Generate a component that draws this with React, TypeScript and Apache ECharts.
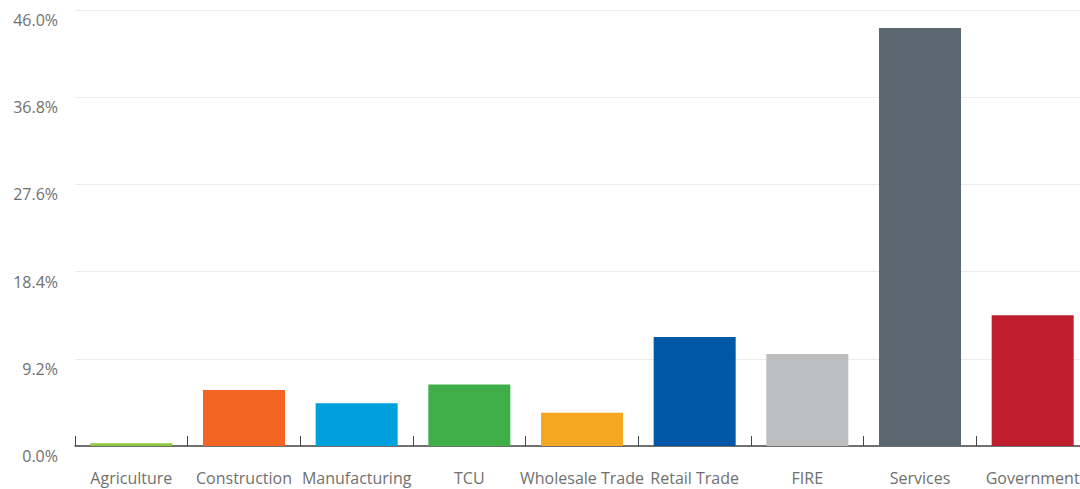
import React, { useEffect, useRef } from "react";
import * as echarts from "echarts";

const categories = ["Agriculture", "Construction", "Manufacturing", "TCU", "Wholesale Trade", "Retail Trade", "FIRE", "Services", "Government"];
const values = [0.3, 5.9, 4.5, 6.5, 3.5, 11.5, 9.7, 44.1, 13.8];
const colors = ["#8dc63f", "#f26522", "#00a0dc", "#3fae49", "#f5a623", "#0057a5", "#bcbec0", "#5a6670", "#be1e2d"];
const yMax = 46;
const yInterval = 9.2;

export default function App() {
  const ref = useRef<HTMLDivElement>(null);
  useEffect(() => {
    if (!ref.current) return;
    const chart = echarts.init(ref.current, null, { renderer: "svg" });
    chart.setOption({
      animation: false,
      grid: { left: 75, top: 10, right: 21, bottom: 43, containLabel: false },
      xAxis: {
        type: "category",
        data: categories,
        axisLine: { lineStyle: { color: "#444", width: 1.5 } },
        axisTick: { show: true, inside: true, length: 10, lineStyle: { color: "#444" }, alignWithLabel: false },
        axisLabel: { color: "#707070", fontSize: 16, fontFamily: "Open Sans", margin: 24, interval: 0 },
      },
      yAxis: {
        type: "value",
        min: 0,
        max: yMax,
        interval: yInterval,
        axisLine: { show: false },
        axisTick: { show: false },
        splitLine: { lineStyle: { color: "#ececec", width: 1 } },
        axisLabel: {
          color: "#707070",
          fontSize: 16,
          fontFamily: "Open Sans",
          margin: 17,
          verticalAlign: "top",
          padding: [2, 0, 0, 0],
          formatter: (v: number) => v.toFixed(1) + "%",
        },
      },
      series: [
        {
          type: "bar",
          barWidth: 82,
          data: values.map((v, i) => ({ value: v, itemStyle: { color: colors[i] } })),
        },
      ],
    });
    return () => chart.dispose();
  }, []);
  return (
    <div style={{ position: "fixed", left: 0, top: 0, width: 1080, height: 489, overflow: "hidden", background: "#fff" }}>
      <div ref={ref} style={{ width: 1110, height: 489 }} />
    </div>
  );
}
